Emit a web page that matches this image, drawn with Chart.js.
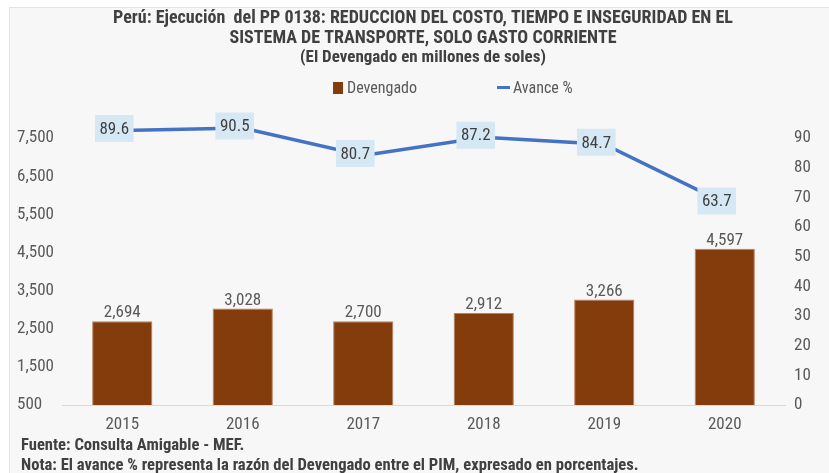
<!DOCTYPE html>
<html>
<head>
<meta charset="utf-8">
<script src="https://cdn.jsdelivr.net/npm/chart.js@4.4.1/dist/chart.umd.min.js"></script>
<style>
  html, body { margin: 0; padding: 0; background: #ffffff; }
  #bg { position: absolute; left: 9px; top: 7px; width: 820px; height: 466px; background: #f7f7f7;
        border-left: 1px solid #e4e4e4; border-top: 1px solid #e4e4e4; box-sizing: border-box; }
  #wrap { position: absolute; left: 0; top: 0; width: 829px; height: 473px; }
  .nf { font-family: Roboto, sans-serif; font-stretch: 75%; }
  #legend { position: absolute; left: 0; top: 78px; width: 829px; height: 20px; font-size: 16px; color: #595959; }
  #legend span { position: absolute; white-space: nowrap; }
  #foot { position: absolute; left: 21px; top: 435px; font-size: 16.6px; font-weight: bold; color: #404040; line-height: 20px; white-space: nowrap; }
</style>
</head>
<body>
<div id="bg"></div>
<div id="wrap"><canvas id="c" width="829" height="473"></canvas></div>
<div id="legend" class="nf">
  <span style="left:333px;top:4px;width:10px;height:12px;background:#843C0C;"></span>
  <span style="left:347px;top:0px;line-height:20px;">Devengado</span>
  <span style="left:497px;top:8px;width:13px;height:3px;background:#4472C4;"></span>
  <span style="left:513px;top:0px;line-height:20px;">Avance %</span>
</div>
<div id="foot" class="nf">
  <div>Fuente: Consulta Amigable - MEF.</div>
  <div>Nota: El avance % representa la razón del Devengado entre el PIM, expresado en porcentajes.</div>
</div>
<script>
const FAM = "Roboto, sans-serif";
const COND = 'condensed';
const COND_B = 'bold condensed';

const titleLines = ['Perú: Ejecución  del PP 0138: REDUCCION DEL COSTO, TIEMPO E INSEGURIDAD EN EL',
                    'SISTEMA DE TRANSPORTE, SOLO GASTO CORRIENTE'];
const subtitleText = '(El Devengado en millones de soles)';

const years = ['2015', '2016', '2017', '2018', '2019', '2020'];
const devengado = [2694, 3028, 2700, 2912, 3266, 4597];
const avance = [89.6, 90.5, 80.7, 87.2, 84.7, 63.7];

const leftTicks = [500, 1500, 2500, 3500, 4500, 5500, 6500, 7500];
const rightTicks = [0, 10, 20, 30, 40, 50, 60, 70, 80, 90];

const fmt = v => v.toLocaleString('en-US');

const labelPlugin = {
  id: 'valueLabels',
  afterDatasetsDraw(chart) {
    const ctx = chart.ctx;
    ctx.save();
    ctx.font = COND + ' 17px ' + FAM;
    ctx.textAlign = 'center';
    const barMeta = chart.getDatasetMeta(0);
    ctx.fillStyle = '#595959';
    ctx.textBaseline = 'alphabetic';
    barMeta.data.forEach((el, i) => {
      ctx.fillText(fmt(devengado[i]), el.x, el.y - 4);
    });
    const lineMeta = chart.getDatasetMeta(1);
    lineMeta.data.forEach((el, i) => {
      const txt = avance[i].toFixed(1);
      const w = ctx.measureText(txt).width + 9;
      const h = 27;
      const cx = el.x - 8, cy = el.y - 2;
      ctx.fillStyle = '#D5E8F4';
      ctx.fillRect(cx - w / 2, cy - h / 2, w, h);
      ctx.fillStyle = '#404040';
      ctx.textBaseline = 'middle';
      ctx.fillText(txt, cx, cy + 1);
    });
    ctx.restore();
  }
};

new Chart(document.getElementById('c'), {
  data: {
    labels: years,
    datasets: [
      {
        type: 'bar',
        label: 'Devengado',
        data: devengado,
        yAxisID: 'y',
        backgroundColor: '#843C0C',
        borderColor: '#b98260',
        borderWidth: 1,
        barPercentage: 0.5,
        categoryPercentage: 1.0,
        order: 2
      },
      {
        type: 'line',
        label: 'Avance %',
        data: avance,
        yAxisID: 'y2',
        borderColor: '#4472C4',
        borderWidth: 3.5,
        pointRadius: 0,
        tension: 0,
        order: 1
      }
    ]
  },
  options: {
    responsive: false,
    animation: false,
    devicePixelRatio: 1,
    layout: { padding: { left: 17, right: 0, top: 0, bottom: 0 } },
    plugins: {
      legend: { display: false },
      tooltip: { enabled: false },
      title: {
        display: true,
        text: titleLines,
        color: '#404040',
        font: { family: FAM, size: 18, weight: COND_B, lineHeight: 20 / 18 },
        padding: { top: 8, bottom: 0 }
      },
      subtitle: {
        display: true,
        text: subtitleText,
        color: '#404040',
        font: { family: FAM, size: 17, weight: COND_B, lineHeight: 20 / 17 },
        padding: { top: 0, bottom: 32 }
      }
    },
    scales: {
      x: {
        grid: { display: false, drawTicks: false },
        border: { display: true, color: '#d9d9d9', width: 1 },
        ticks: { color: '#595959', font: { family: FAM, size: 17, weight: COND }, padding: 10 },
        afterFit(scale) { scale.height = 68; }
      },
      y: {
        position: 'left',
        min: 500,
        max: 8500,
        grid: { display: false, drawTicks: false },
        border: { display: false },
        afterBuildTicks(scale) { scale.ticks = leftTicks.map(v => ({ value: v })); },
        ticks: {
          color: '#595959',
          font: { family: FAM, size: 17, weight: COND },
          crossAlign: 'far',
          callback: v => fmt(v)
        },
        afterFit(scale) { scale.width = 45; }
      },
      y1: {
        position: 'right',
        min: 0,
        max: 102.9,
        grid: { display: false, drawTicks: false },
        border: { display: false },
        afterBuildTicks(scale) { scale.ticks = rightTicks.map(v => ({ value: v })); },
        ticks: { color: '#595959', font: { family: FAM, size: 17, weight: COND }, padding: 9 },
        afterFit(scale) { scale.width = 44; }
      },
      y2: {
        display: false,
        min: -8.4,
        max: 100.5
      }
    }
  },
  plugins: [labelPlugin]
});
</script>
</body>
</html>
